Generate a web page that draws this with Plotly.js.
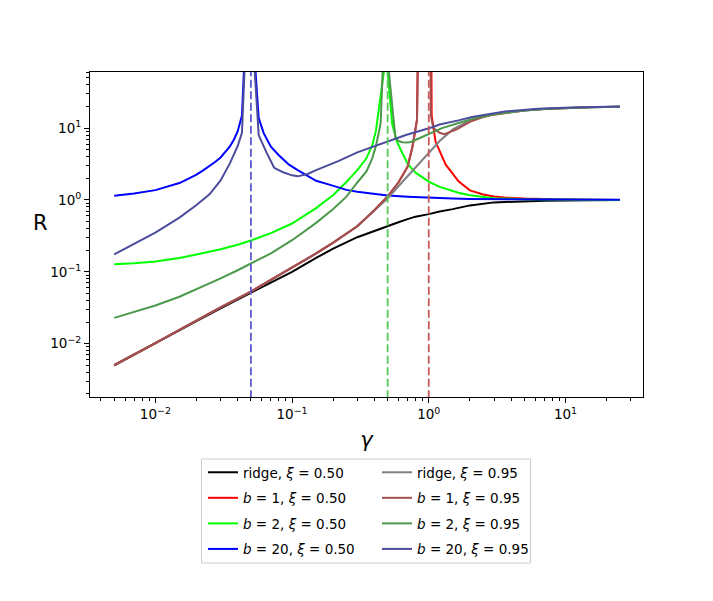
<!DOCTYPE html>
<html>
<head>
<meta charset="utf-8">
<script src="https://cdn.plot.ly/plotly-3.0.1.min.js"></script>
<style>
  html, body { margin: 0; padding: 0; background: #fff; }
  #chart { width: 713px; height: 601px; }
</style>
</head>
<body>
<div id="chart"></div>
<script>
  // values (gamma -> R)

  // ridge curves share one grid
  var gRidge = [0.005, 0.007, 0.01, 0.015, 0.02, 0.03, 0.05, 0.07, 0.1, 0.15, 0.2, 0.3, 0.4, 0.5,
    0.6, 0.7, 0.8, 1.0, 1.2, 1.5, 2, 3, 5, 7, 10, 15, 25];
  var rRidge050 = [0.005, 0.007, 0.0101, 0.0152, 0.0205, 0.031, 0.051, 0.071, 0.1, 0.156, 0.21, 0.303, 0.373, 0.43,
    0.49, 0.54, 0.585, 0.635, 0.69, 0.745, 0.84, 0.925, 0.96, 0.975, 0.985, 0.99, 0.995];
  var rRidge095 = [0.005, 0.007, 0.0102, 0.0155, 0.021, 0.032, 0.053, 0.077, 0.113, 0.18, 0.254, 0.43, 0.72, 1.05,
    1.55, 2.15, 2.8, 4.6, 6.6, 9.6, 12.8, 15.6, 17.6, 18.4, 19.1, 19.5, 19.8];

  // b = 1
  var gB1x095 = [0.005, 0.007, 0.01, 0.015, 0.02, 0.03, 0.05, 0.07, 0.1, 0.15, 0.2, 0.3, 0.4, 0.45, 0.5,
    0.6, 0.7, 0.76, 0.82, 0.86, 0.95, 1.02, 1.035, 1.08, 1.2, 1.3, 1.45, 1.6, 2, 2.5, 3, 5, 7, 10, 15, 25];
  var rB1x095 = [0.005, 0.007, 0.0102, 0.0155, 0.021, 0.032, 0.053, 0.077, 0.113, 0.18, 0.254, 0.43, 0.72, 0.9, 1.12,
    1.75, 2.9, 5.5, 13, 1e4, 1e5, 1e4, 15, 10, 8.6, 8.2, 8.8, 9.6, 12.2, 14.3, 15.4, 17.6, 18.4, 19.1, 19.5, 19.8];
  var gB1x050 = [0.005, 0.007, 0.01, 0.015, 0.02, 0.03, 0.05, 0.07, 0.1, 0.15, 0.2, 0.3, 0.4, 0.45, 0.5,
    0.6, 0.7, 0.76, 0.82, 0.86, 0.95, 1.03, 1.05, 1.12, 1.2, 1.33, 1.5, 1.65, 2, 2.5, 3, 3.6, 5, 7, 10, 15, 25];
  var rB1x050 = [0.005, 0.007, 0.0102, 0.0155, 0.021, 0.032, 0.053, 0.077, 0.113, 0.18, 0.254, 0.43, 0.72, 0.9, 1.12,
    1.75, 2.9, 5.5, 13, 1e4, 1e5, 1e4, 15, 6.5, 4.8, 3.1, 2.3, 1.82, 1.36, 1.19, 1.12, 1.08, 1.045, 1.025, 1.012, 1.006, 1.0];

  // b = 2
  var gB2x050 = [0.005, 0.007, 0.01, 0.015, 0.02, 0.03, 0.04, 0.05, 0.07, 0.1, 0.15, 0.2, 0.25, 0.3, 0.35,
    0.386, 0.41, 0.445, 0.47, 0.485, 0.5, 0.54, 0.585, 0.64, 0.7, 0.8, 1.0, 1.2, 1.4, 1.65, 2, 3, 5, 7, 10, 15, 25];
  var rB2x050 = [0.127, 0.131, 0.139, 0.156, 0.174, 0.206, 0.238, 0.272, 0.345, 0.47, 0.77, 1.17, 1.78, 2.6, 3.8,
    5.8, 9, 26, 62, 1e4, 62, 11.4, 6.5, 4.5, 3.2, 2.4, 1.8, 1.52, 1.38, 1.26, 1.16, 1.06, 1.025, 1.015, 1.008, 1.004, 1.0];
  var gB2x095 = [0.005, 0.007, 0.01, 0.015, 0.02, 0.03, 0.04, 0.05, 0.07, 0.1, 0.15, 0.2, 0.25, 0.3, 0.35,
    0.386, 0.41, 0.43, 0.445, 0.46, 0.485, 0.51, 0.54, 0.57, 0.6, 0.64, 0.7, 0.74, 0.82, 1.0, 1.25, 1.65, 2.2, 3, 3.6,
    5, 7, 10, 15, 25];
  var rB2x095 = [0.0228, 0.028, 0.034, 0.045, 0.057, 0.081, 0.105, 0.13, 0.18, 0.275, 0.48, 0.75, 1.11, 1.75, 2.5,
    3.8, 5.6, 8.5, 12, 62, 1e4, 62, 19, 7.4, 6.6, 6.35, 6.3, 6.4, 7.0, 8.3, 10, 11.8, 13.8, 15.6, 16.4,
    17.6, 18.4, 19.1, 19.5, 19.8];

  // b = 20
  var gB20x050 = [0.005, 0.007, 0.01, 0.0125, 0.015, 0.0175, 0.02, 0.0225, 0.025, 0.0275, 0.03, 0.0325, 0.035,
    0.0375, 0.04, 0.043, 0.045, 0.05, 0.054, 0.057, 0.062, 0.07, 0.08, 0.095, 0.11, 0.13, 0.15, 0.19, 0.25, 0.3,
    0.4, 0.5, 0.7, 1.0, 1.5, 2, 3, 5, 10, 25];
  var rB20x050 = [1.14, 1.23, 1.37, 1.54, 1.72, 1.98, 2.25, 2.6, 2.95, 3.4, 3.9, 4.6, 5.5, 6.9, 9.0, 15, 62, 1e4,
    62, 13.8, 8.5, 5.5, 4.2, 3.1, 2.6, 2.15, 1.85, 1.62, 1.38, 1.3,
    1.22, 1.15, 1.11, 1.07, 1.045, 1.03, 1.02, 1.015, 1.012, 1.01];
  var gB20x095 = [0.005, 0.007, 0.01, 0.015, 0.02, 0.025, 0.03, 0.035, 0.04, 0.043, 0.0455, 0.05, 0.0533, 0.057,
    0.065, 0.074, 0.085, 0.1, 0.11, 0.13, 0.15, 0.19, 0.22, 0.3, 0.39, 0.5, 0.68, 1.06, 1.2, 1.65, 2.07, 3.6, 6.3, 11, 25];
  var rB20x095 = [0.175, 0.243, 0.352, 0.567, 0.85, 1.21, 1.87, 3.2, 5.6, 8.6, 62, 1e4, 62, 8.0,
    4.6, 2.8, 2.45, 2.2, 2.13, 2.3, 2.6, 3.1, 3.5, 4.6, 5.5, 6.6, 8.0, 10.3, 11.2, 12.8, 14.3, 17.0, 18.6, 19.4, 20.0];

  // dashed marker lines
  var peakGammas = [0.05, 0.5, 1.0];
  var peakColors = ['#5c5cd2', '#55c855', '#c85a5a'];

  var xTickVals = [0.01, 0.1, 1, 10];
  var xTickText = ['10<sup>\u22122</sup>', '10<sup>\u22121</sup>', '10<sup>0</sup>', '10<sup>1</sup>'];
  var yTickVals = [0.01, 0.1, 1, 10];
  var yTickText = ['10<sup>\u22122</sup>', '10<sup>\u22121</sup>', '10<sup>0</sup>', '10<sup>1</sup>'];

  function minorTicks(lo, hi) {
    var out = [];
    for (var e = -4; e <= 3; e++) {
      for (var m = 2; m <= 9; m++) {
        var v = m * Math.pow(10, e);
        if (v > lo && v < hi) out.push(v);
      }
    }
    return out;
  }

  function curve(x, y, name, color, legend, group) {
    return {
      x: x, y: y, name: name, type: 'scatter', mode: 'lines',
      line: {color: color, width: 2},
      legend: legend, legendgroup: group
    };
  }

  var data = [
    curve(gRidge, rRidge050, 'ridge, <i>\u03be</i> = 0.50', '#000000', 'legend', 'a1'),
    curve(gB1x050, rB1x050, '<i>b</i> = 1, <i>\u03be</i> = 0.50', '#ff0000', 'legend', 'a2'),
    curve(gB2x050, rB2x050, '<i>b</i> = 2, <i>\u03be</i> = 0.50', '#00ff00', 'legend', 'a3'),
    curve(gB20x050, rB20x050, '<i>b</i> = 20, <i>\u03be</i> = 0.50', '#0000ff', 'legend', 'a4'),
    curve(gRidge, rRidge095, 'ridge, <i>\u03be</i> = 0.95', '#808080', 'legend2', 'b1'),
    curve(gB1x095, rB1x095, '<i>b</i> = 1, <i>\u03be</i> = 0.95', '#a34f4f', 'legend2', 'b2'),
    curve(gB2x095, rB2x095, '<i>b</i> = 2, <i>\u03be</i> = 0.95', '#4c994c', 'legend2', 'b3'),
    curve(gB20x095, rB20x095, '<i>b</i> = 20, <i>\u03be</i> = 0.95', '#4c4c9c', 'legend2', 'b4')
  ];

  peakGammas.forEach(function(g, i) {
    data.push({
      x: [g, g], y: [1e-5, 1e5], type: 'scatter', mode: 'lines',
      line: {color: peakColors[i], width: 1.8, dash: '8px,3.5px'},
      showlegend: false, hoverinfo: 'skip'
    });
  });

  var axisCommon = {
    type: 'log',
    showgrid: false,
    zeroline: false,
    showline: true,
    mirror: true,
    linecolor: '#000',
    linewidth: 1,
    ticks: 'outside',
    ticklen: 5,
    tickwidth: 1,
    tickcolor: '#000',
    tickmode: 'array',
    tickfont: {size: 13.5, color: '#000'}
  };

  var layout = {
    width: 713,
    height: 601,
    margin: {l: 90, r: 70, t: 72, b: 204},
    paper_bgcolor: '#fff',
    plot_bgcolor: '#fff',
    font: {family: 'DejaVu Sans, sans-serif', size: 13.5, color: '#000'},
    xaxis: Object.assign({}, axisCommon, {
      range: [-2.478, 1.567],
      tickvals: xTickVals,
      ticktext: xTickText,
      minor: {tickvals: minorTicks(0.003, 40), ticks: 'outside', ticklen: 3, tickwidth: 1, tickcolor: '#000'},
      title: {text: '<i>\u03b3</i>', font: {size: 21}, standoff: 11}
    }),
    yaxis: Object.assign({}, axisCommon, {
      range: [-2.743, 1.781],
      tickvals: yTickVals,
      ticktext: yTickText,
      minor: {tickvals: minorTicks(0.0017, 61), ticks: 'outside', ticklen: 3, tickwidth: 1, tickcolor: '#000'}
    }),
    annotations: [{
      text: 'R', xref: 'paper', yref: 'paper', x: -0.0904, y: 0.5354,
      xanchor: 'center', yanchor: 'middle', showarrow: false, font: {size: 21}
    }],
    legend: {
      x: 0.2043, xanchor: 'left', y: -0.1846, yanchor: 'top',
      bgcolor: 'rgba(0,0,0,0)', borderwidth: 0,
      traceorder: 'grouped', tracegroupgap: 5, font: {size: 13.5}
    },
    legend2: {
      x: 0.519, xanchor: 'left', y: -0.1846, yanchor: 'top',
      bgcolor: 'rgba(0,0,0,0)', borderwidth: 0,
      traceorder: 'grouped', tracegroupgap: 5, font: {size: 13.5}
    },
    shapes: [{
      type: 'rect', xref: 'paper', yref: 'paper',
      x0: 0.2016, x1: 0.7966, y0: -0.1908, y1: -0.5108,
      line: {color: '#cccccc', width: 1}, fillcolor: 'rgba(0,0,0,0)'
    }],
    showlegend: true
  };

  Plotly.newPlot('chart', data, layout, {staticPlot: true, displayModeBar: false});
</script>
</body>
</html>
